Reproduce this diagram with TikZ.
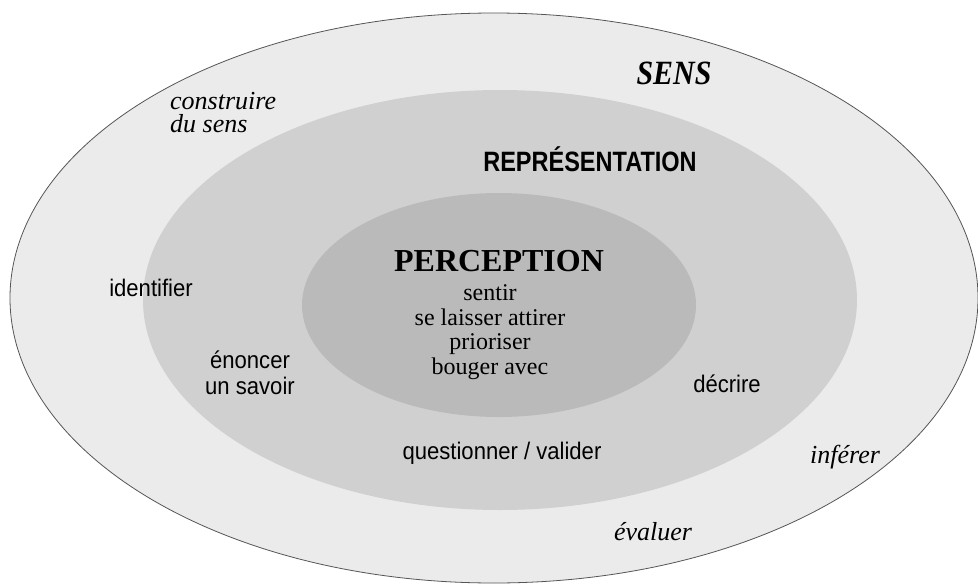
\documentclass[tikz,border=0pt]{standalone}
\usepackage{fontspec}
\setmainfont{Liberation Serif}
\newfontfamily\narrowsans{Liberation Sans}[FakeStretch=0.92]
\newfontfamily\titlesans{Liberation Sans}[FakeStretch=0.84]
\newfontfamily\titleserif{Liberation Serif}[FakeStretch=0.88]
\definecolor{SensGray}{RGB}{235,235,235}
\definecolor{ReprGray}{RGB}{208,208,208}
\definecolor{PercGray}{RGB}{186,186,186}
\definecolor{RimGray}{RGB}{85,85,85}

\begin{document}
\begin{tikzpicture}[
    x=1pt, y=-1pt,
    every node/.style={inner sep=0pt, anchor=base},
    verb/.style={font=\narrowsans\fontsize{24}{26}\selectfont, align=center},
    sensverb/.style={font=\itshape\fontsize{26}{23}\selectfont, align=left},
    percverb/.style={font=\fontsize{24}{24.5}\selectfont, align=center}
  ]
    \fill[white] (0,0) rectangle (978,584);
    \useasboundingbox (0,0) rectangle (978,584);

    % the three zones
    \filldraw[fill=SensGray, draw=RimGray, line width=0.8pt] (494,298) ellipse [x radius=484, y radius=285];
    \fill[ReprGray] (500,300) ellipse [x radius=357, y radius=210];
    \fill[PercGray] (499,305) ellipse [x radius=197, y radius=112];

    % titles
    \node[font=\titleserif\bfseries\itshape\fontsize{34}{34}\selectfont] (sens) at (674,84) {SENS};
    \node[font=\titlesans\bfseries\fontsize{28}{28}\selectfont] (repr) at (590,171) {REPRÉSENTATION};
    \node[font=\bfseries\fontsize{32}{32}\selectfont] (perc) at (499,271) {PERCEPTION};

    % perception (base = last line)
    \node[percverb] (sentir) at (490,374) {sentir\\se laisser attirer\\prioriser\\bouger avec};

    % representation
    \node[verb] (identifier) at (151,296) {identifier};
    \node[verb] (enoncer) at (250,394) {énoncer\\un savoir};
    \node[verb] (decrire) at (727,392) {décrire};
    \node[verb] (questionner) at (502,459) {questionner / valider};

    % sens
    \node[sensverb, anchor=base west] (construire) at (170,132) {construire\\du sens};
    \node[sensverb] (inferer) at (845,463) {inférer};
    \node[sensverb] (evaluer) at (653,540) {évaluer};
  \end{tikzpicture}
\end{document}
